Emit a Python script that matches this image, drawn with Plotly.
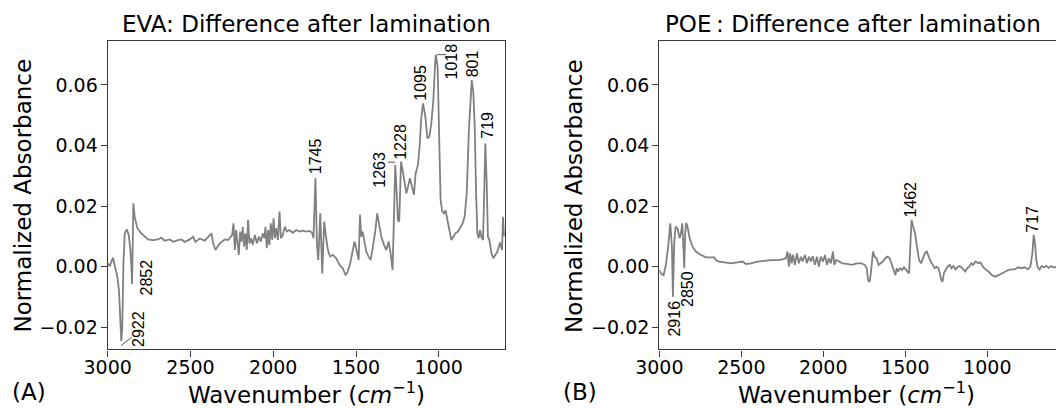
import plotly.graph_objects as go

# ---------------- data ----------------
eva_wn = [3000, 2988, 2968, 2954, 2942, 2932, 2922, 2918, 2912, 2905, 2897, 2885, 2873, 2863, 2857,
          2853, 2849, 2845, 2837, 2821, 2797, 2756, 2726, 2696, 2676, 2656, 2625, 2605, 2575, 2555,
          2535, 2504, 2484, 2470, 2444, 2414, 2373, 2363, 2349, 2323, 2293, 2273,
          2264, 2248, 2240, 2232, 2224, 2216, 2208, 2200, 2192, 2184, 2176, 2168, 2160, 2152, 2144,
          2134, 2124, 2111, 2099, 2087, 2075, 2063, 2053, 2047, 2039, 2031, 2023, 2015, 2006, 1998,
          1990, 1982, 1972, 1962, 1954, 1942, 1930, 1918, 1902, 1882, 1861, 1841, 1821, 1801, 1781,
          1765, 1757, 1745, 1736, 1728, 1716, 1704, 1692, 1684, 1670, 1656, 1640, 1620, 1599, 1579,
          1563, 1551, 1535, 1519,
          1509, 1492, 1484, 1476, 1468, 1460, 1452, 1438, 1424, 1412, 1398, 1384, 1372, 1359, 1347,
          1331, 1317, 1303, 1291, 1279, 1271, 1263, 1255, 1247, 1239, 1228, 1222, 1210, 1196, 1186,
          1174, 1162, 1150, 1140, 1126, 1116, 1106, 1095, 1081, 1069, 1057, 1045, 1033, 1021, 1018,
          1007, 999, 989, 979, 969, 959, 948, 936, 924, 912, 900, 884, 868, 856, 844, 831, 819, 807,
          801, 791, 783, 775, 767, 759, 751, 743, 733, 725, 719, 711, 703, 694, 682, 670, 658, 646,
          630, 618, 612, 606, 601]
eva_abs = [0.0011, 0.0002, 0.0030, -0.0011, -0.0033, -0.0077, -0.0176, -0.0245, -0.0198, 0.0011,
           0.0110, 0.0123, 0.0105, 0.0055, 0.0000, -0.0057, 0.0066, 0.0209, 0.0165, 0.0127, 0.0110,
           0.0090, 0.0088, 0.0090, 0.0096, 0.0086, 0.0090, 0.0082, 0.0088, 0.0090, 0.0082, 0.0090,
           0.0099, 0.0082, 0.0093, 0.0086, 0.0110, 0.0077, 0.0055, 0.0077, 0.0090, 0.0088,
           0.0094, 0.0105, 0.0143, 0.0055, 0.0121, 0.0066, 0.0039, 0.0116, 0.0083, 0.0132, 0.0066,
           0.0110, 0.0055, 0.0154, 0.0077, 0.0094, 0.0072, 0.0105, 0.0077, 0.0099, 0.0083, 0.0110,
           0.0094, 0.0132, 0.0061, 0.0121, 0.0072, 0.0143, 0.0088, 0.0160, 0.0094, 0.0127, 0.0088,
           0.0182, 0.0094, 0.0105, 0.0132, 0.0116, 0.0121, 0.0112, 0.0121, 0.0116, 0.0119, 0.0116,
           0.0118, 0.0112, 0.0094, 0.0292, 0.0072, 0.0022, 0.0176, -0.0022, 0.0149, 0.0110, 0.0055,
           0.0033, 0.0039, 0.0028, 0.0006, -0.0006, -0.0028, -0.0017, 0.0011, 0.0055,
           0.0083, 0.0044, 0.0022, 0.0171, 0.0099, 0.0116, 0.0088, 0.0050, 0.0033, 0.0022, 0.0066,
           0.0116, 0.0176, 0.0132, 0.0099, 0.0072, 0.0055, 0.0083, 0.0044, -0.0011, 0.0132, 0.0336,
           0.0253, 0.0154, 0.0149, 0.0347, 0.0330, 0.0286, 0.0242, 0.0264, 0.0292, 0.0264, 0.0237,
           0.0308, 0.0336, 0.0396, 0.0490, 0.0539, 0.0495, 0.0424, 0.0429, 0.0473, 0.0550, 0.0682,
           0.0699, 0.0660, 0.0473, 0.0220, 0.0182, 0.0176, 0.0187, 0.0149, 0.0121, 0.0088, 0.0099,
           0.0110, 0.0116, 0.0132, 0.0143, 0.0165, 0.0242, 0.0440, 0.0561, 0.0616, 0.0572, 0.0462,
           0.0253, 0.0110, 0.0094, 0.0121, 0.0099, 0.0088, 0.0253, 0.0407, 0.0286, 0.0099, 0.0088,
           0.0044, 0.0028, 0.0039, 0.0050, 0.0080, 0.0055, 0.0165, 0.0100]

poe_wn = [3000, 2990, 2974, 2960, 2946, 2933, 2923, 2917, 2909, 2901, 2889, 2876, 2868, 2860, 2852,
          2848, 2842, 2836, 2828, 2815, 2797, 2777, 2746, 2716, 2685, 2665, 2655, 2635, 2604, 2563,
          2523, 2492, 2472, 2441, 2401, 2360, 2319, 2279, 2248, 2228, 2218, 2210, 2202, 2193, 2185,
          2173, 2161, 2149, 2137, 2126, 2112, 2100, 2088, 2076, 2064, 2051, 2039, 2027, 2015, 2002,
          1990, 1978, 1966, 1954, 1941, 1933, 1921, 1903,
          1885, 1856, 1826, 1796, 1766, 1747, 1735, 1727, 1718, 1710, 1697, 1687, 1675, 1663, 1651,
          1637, 1623, 1608, 1595, 1583, 1572, 1560, 1552, 1544, 1531, 1520, 1508, 1496, 1484, 1477,
          1468, 1462, 1452, 1440, 1429, 1416, 1404, 1393, 1381, 1369, 1357, 1345, 1333, 1321, 1309,
          1298, 1289, 1281, 1273, 1265, 1254, 1242, 1229, 1218, 1206, 1194, 1182, 1171, 1158, 1146,
          1134, 1123, 1110, 1098, 1087, 1071, 1055, 1041, 1027, 1011, 992, 971, 952, 932, 912, 892,
          872, 852, 832, 813, 792, 773, 753, 737, 725, 717, 709, 701, 693, 681, 669, 655, 640, 625,
          610, 595, 581]
poe_abs = [-0.0011, -0.0022, -0.0028, 0.0006, 0.0066, 0.0143, 0.0066, -0.0099, 0.0077, 0.0132,
           0.0127, 0.0094, 0.0110, 0.0143, 0.0055, -0.0005, 0.0110, 0.0145, 0.0132, 0.0094, 0.0066,
           0.0050, 0.0039, 0.0031, 0.0031, 0.0031, 0.0022, 0.0017, 0.0014, 0.0011, 0.0014, 0.0017,
           0.0009, 0.0011, 0.0017, 0.0020, 0.0022, 0.0022, 0.0024, 0.0028, 0.0050, 0.0000, 0.0044,
           0.0011, 0.0039, 0.0006, 0.0044, 0.0011, 0.0033, 0.0017, 0.0039, 0.0011, 0.0033, 0.0017,
           0.0035, 0.0006, 0.0033, 0.0000, 0.0033, 0.0017, 0.0039, 0.0006, 0.0028, 0.0011, 0.0050,
           0.0006, 0.0022, 0.0017,
           0.0011, 0.0009, 0.0006, 0.0011, 0.0011, 0.0006, -0.0005, -0.0044, -0.0050, -0.0022,
           0.0050, 0.0033, 0.0028, 0.0006, 0.0011, 0.0017, 0.0028, 0.0033, 0.0028, 0.0011, -0.0011,
           -0.0028, -0.0005, -0.0016, -0.0005, -0.0011, -0.0002, -0.0009, -0.0016, -0.0022, 0.0083,
           0.0154, 0.0132, 0.0110, 0.0066, 0.0022, 0.0011, 0.0028, 0.0044, 0.0050, 0.0033, 0.0017,
           0.0006, -0.0005, 0.0000, -0.0005, -0.0022, -0.0044, -0.0050, -0.0022, -0.0011, 0.0000,
           0.0006, -0.0005, 0.0002, -0.0009, -0.0002, 0.0002, -0.0002, -0.0011, -0.0016, -0.0005,
           0.0000, 0.0011, 0.0006, 0.0017, 0.0011, 0.0014, 0.0000, -0.0009, -0.0016, -0.0028,
           -0.0033, -0.0028, -0.0022, -0.0016, -0.0011, -0.0009, -0.0009, -0.0002, -0.0005, -0.0002,
           -0.0009, 0.0000, 0.0044, 0.0105, 0.0077, 0.0022, -0.0002, -0.0009, 0.0002, -0.0002,
           0.0003, -0.0004, 0.0002, -0.0003, 0.0000]

eva_peak_labels = ["2922", "2852", "1745", "1263", "1228", "1095", "1018", "801", "719"]
poe_peak_labels = ["2916", "2850", "1462", "717"]

x_ticks = [3000, 2500, 2000, 1500, 1000]
y_ticks = [-0.02, 0.00, 0.02, 0.04, 0.06]

# ---------------- layout helpers ----------------
W, H = 1056, 408
A_X = (107.7, 505.0)
B_X = (659.3, 1056.0)
Y_PX = (40.7, 349.4)

eva_label_pos = [(2814, -0.0204), (2765, -0.0037), (1747, 0.0365), (1363, 0.0319),
                 (1233, 0.0413), (1112, 0.0608), (921, 0.0677), (794, 0.0671), (704, 0.0468)]
poe_label_pos = [(2910, -0.0171), (2828, -0.0075), (1468, 0.0220), (724, 0.0157)]
eva_leaders = [((2921, -0.0261), (2855, -0.0233)),
               ((1263, 0.0345), (1307, 0.0345)),
               ((1012, 0.0700), (955, 0.0700))]

LINE_COLOR = "#808080"
AXIS_COLOR = "#3a3a3a"
TICK_FONT = dict(family="DejaVu Sans", size=19, color="black")
LBL_FONT = dict(family="Liberation Sans, Arial", size=16, color="black")
BIG_FONT = dict(family="DejaVu Sans", size=23, color="black")

fig = go.Figure()
fig.add_trace(go.Scatter(x=eva_wn, y=eva_abs, mode="lines", xaxis="x", yaxis="y",
                         line=dict(color=LINE_COLOR, width=1.8), showlegend=False))
fig.add_trace(go.Scatter(x=poe_wn, y=poe_abs, mode="lines", xaxis="x2", yaxis="y2",
                         line=dict(color=LINE_COLOR, width=1.8), showlegend=False))

ydom = [(H - Y_PX[1]) / H, (H - Y_PX[0]) / H]
common_x = dict(tickvals=x_ticks, ticks="outside", ticklen=6, tickwidth=1.2, tickcolor=AXIS_COLOR,
                showline=True, linecolor=AXIS_COLOR, linewidth=1.3, showgrid=False, zeroline=False,
                tickfont=TICK_FONT, automargin=False, ticklabelstandoff=-5)
common_y = dict(tickvals=y_ticks, tickformat=".2f", ticks="outside", ticklen=6, tickwidth=1.2,
                tickcolor=AXIS_COLOR, showline=True, linecolor=AXIS_COLOR, linewidth=1.3,
                showgrid=False, zeroline=False, tickfont=TICK_FONT, range=[-0.0273, 0.0746],
                automargin=False, ticklabelstandoff=-1)

fig.update_layout(
    width=W, height=H, margin=dict(l=0, r=0, t=0, b=0, autoexpand=False),
    paper_bgcolor="white", plot_bgcolor="white",
    xaxis=dict(domain=[A_X[0] / W, A_X[1] / W], range=[3000, 600], mirror=True, anchor="y", **common_x),
    yaxis=dict(domain=ydom, mirror=True, anchor="x", **common_y),
    xaxis2=dict(domain=[B_X[0] / W, 1.0], range=[3000, 581], mirror=True, anchor="y2", **common_x),
    yaxis2=dict(domain=ydom, mirror=False, anchor="x2", **common_y),
)

ann = []
for t, (px, py) in zip(eva_peak_labels, eva_label_pos):
    ann.append(dict(x=px, y=py, xref="x", yref="y", text=t, textangle=-90, showarrow=False,
                    font=LBL_FONT, xanchor="center", yanchor="middle"))
for t, (px, py) in zip(poe_peak_labels, poe_label_pos):
    ann.append(dict(x=px, y=py, xref="x2", yref="y2", text=t, textangle=-90, showarrow=False,
                    font=LBL_FONT, xanchor="center", yanchor="middle"))


def paper(xp, yp):
    return xp / W, (H - yp) / H


texts = [
    ("EVA: Difference after lamination", 306, 24, 0),
    ("POE\u2009: Difference after lamination", 853, 24, 0),
    ("Normalized Absorbance", 22.5, 196, -90),
    ("Normalized Absorbance", 574, 196, -90),
    ("Wavenumber (<i>cm</i><sup>\u22121</sup>)", 306.7, 393, 0),
    ("Wavenumber (<i>cm</i><sup>\u22121</sup>)", 856.7, 393, 0),
    ("(A)", 29, 392, 0),
    ("(B)", 580, 392, 0),
]
for t, xp, yp, ang in texts:
    px, py = paper(xp, yp)
    ann.append(dict(x=px, y=py, xref="paper", yref="paper", text=t, textangle=ang,
                    showarrow=False, font=BIG_FONT, xanchor="center", yanchor="middle"))
fig.update_layout(annotations=ann)

shapes = []
for (x0, y0), (x1, y1) in eva_leaders:
    shapes.append(dict(type="line", xref="x", yref="y", x0=x0, y0=y0, x1=x1, y1=y1,
                       line=dict(color="#555555", width=1)))
fig.update_layout(shapes=shapes)

fig.write_html("out.html")
